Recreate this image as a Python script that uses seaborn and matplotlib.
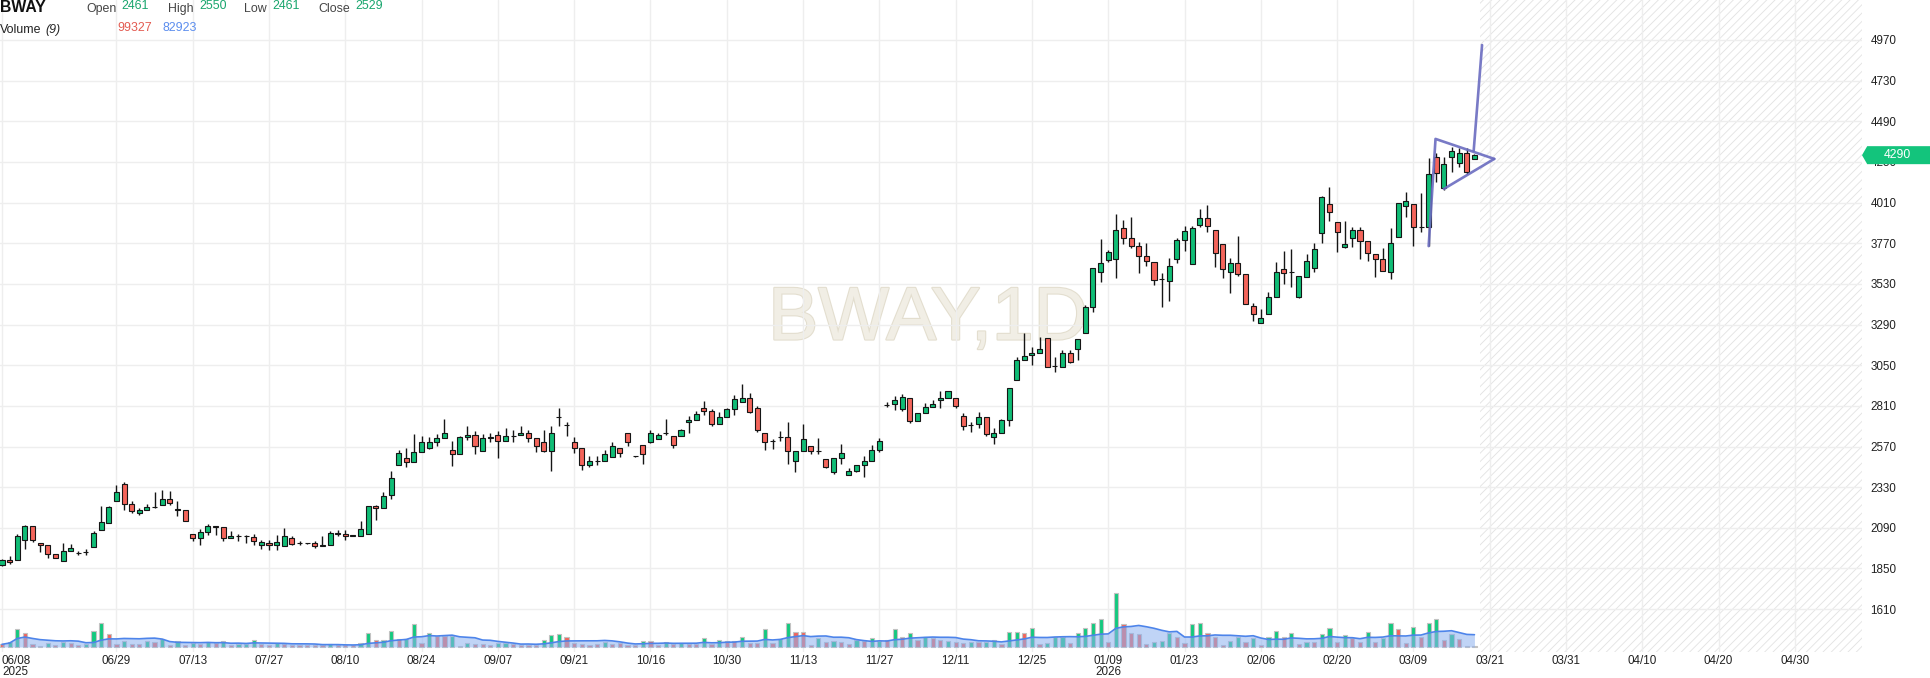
import numpy as np
import pandas as pd
import matplotlib
matplotlib.use("Agg")
import matplotlib.pyplot as plt
import matplotlib.patheffects as pe
from matplotlib.patches import Polygon
import seaborn as sns

# ---------------- data ----------------
open_ = [1868, 1902, 1902, 2020, 2099, 1998, 1986, 1935, 1892, 1953,
         1941, 1948, 1975, 2077, 2118, 2248, 2348, 2230, 2177, 2195,
         2213, 2224, 2260, 2199, 2195, 2055, 2030, 2065, 2100, 2095,
         2030, 2041, 2042, 2038, 1986, 2000, 1986, 1981, 2030, 1998,
         1998, 1998, 1985, 1986, 2055, 2053, 2043, 2042, 2053, 2221,
         2207, 2281, 2461, 2502, 2478, 2537, 2561, 2596, 2620, 2549,
         2525, 2626, 2637, 2541, 2622, 2637, 2602, 2632, 2637, 2649,
         2620, 2596, 2541, 2744, 2697, 2596, 2561, 2458, 2484, 2484,
         2508, 2561, 2649, 2512, 2580, 2596, 2614, 2647, 2632, 2632,
         2714, 2728, 2797, 2779, 2702, 2744, 2791, 2832, 2856, 2797,
         2649, 2600, 2625, 2626, 2482, 2541, 2572, 2543, 2496, 2419,
         2502, 2403, 2427, 2462, 2486, 2549, 2816, 2820, 2791, 2856,
         2718, 2767, 2802, 2842, 2856, 2856, 2753, 2698, 2702, 2743,
         2626, 2649, 2728, 2964, 3082, 3109, 3121, 3210, 3046, 3042,
         3121, 3145, 3239, 3393, 3599, 3672, 3676, 3859, 3800, 3756,
         3695, 3662, 3558, 3550, 3676, 3790, 3646, 3878, 3918, 3849,
         3764, 3599, 3652, 3587, 3400, 3298, 3351, 3452, 3617, 3599,
         3450, 3570, 3623, 3829, 4000, 3898, 3750, 3800, 3849, 3784,
         3705, 3676, 3599, 3806, 3992, 4000, 3865, 3865, 4282, 4099,
         4282, 4246, 4301, 4266]
high = [1908, 1925, 2053, 2108, 2099, 1998, 1990, 1935, 2000, 1994,
        1951, 1967, 2069, 2217, 2218, 2344, 2360, 2246, 2207, 2230,
        2301, 2315, 2309, 2246, 2195, 2055, 2083, 2114, 2103, 2095,
        2073, 2053, 2046, 2053, 2018, 2020, 2049, 2089, 2044, 2010,
        1999, 2010, 2043, 2073, 2079, 2079, 2047, 2128, 2221, 2226,
        2301, 2427, 2550, 2561, 2643, 2630, 2624, 2643, 2732, 2600,
        2630, 2689, 2659, 2643, 2649, 2659, 2679, 2669, 2689, 2669,
        2620, 2669, 2689, 2797, 2712, 2626, 2561, 2512, 2512, 2547,
        2596, 2561, 2649, 2516, 2580, 2669, 2649, 2732, 2632, 2675,
        2752, 2781, 2840, 2793, 2771, 2797, 2874, 2938, 2885, 2807,
        2649, 2614, 2663, 2712, 2541, 2702, 2572, 2620, 2496, 2502,
        2584, 2446, 2462, 2515, 2580, 2620, 2830, 2866, 2879, 2856,
        2767, 2826, 2846, 2895, 2899, 2856, 2767, 2712, 2771, 2743,
        2679, 2732, 2915, 3098, 3239, 3160, 3219, 3210, 3098, 3137,
        3141, 3204, 3406, 3623, 3794, 3731, 3941, 3908, 3924, 3776,
        3774, 3662, 3597, 3682, 3800, 3872, 3869, 3973, 3993, 3849,
        3764, 3682, 3810, 3587, 3420, 3381, 3485, 3662, 3727, 3735,
        3577, 3705, 3770, 4050, 4105, 3898, 3902, 3865, 3865, 3784,
        3705, 3741, 3859, 4006, 4071, 4000, 4065, 4272, 4300, 4282,
        4341, 4331, 4331, 4296]
low = [1862, 1876, 1900, 1967, 2006, 1947, 1912, 1912, 1892, 1953,
       1931, 1928, 1975, 2077, 2118, 2248, 2197, 2177, 2167, 2195,
       2210, 2224, 2226, 2158, 2128, 2010, 1986, 2045, 2049, 2010,
       2030, 2010, 2000, 1986, 1967, 1957, 1961, 1981, 1986, 1986,
       1997, 1971, 1981, 1986, 2040, 2020, 2040, 2042, 2053, 2138,
       2207, 2260, 2461, 2452, 2478, 2537, 2555, 2571, 2620, 2453,
       2525, 2610, 2525, 2541, 2594, 2502, 2602, 2596, 2637, 2596,
       2537, 2537, 2423, 2694, 2630, 2531, 2433, 2452, 2462, 2484,
       2508, 2506, 2571, 2506, 2466, 2590, 2614, 2637, 2559, 2632,
       2649, 2728, 2759, 2689, 2702, 2744, 2759, 2832, 2767, 2655,
       2547, 2555, 2600, 2466, 2419, 2541, 2525, 2527, 2443, 2409,
       2466, 2403, 2417, 2389, 2486, 2537, 2802, 2783, 2777, 2708,
       2718, 2767, 2802, 2797, 2856, 2797, 2669, 2653, 2679, 2633,
       2584, 2649, 2692, 2964, 3082, 3052, 3121, 3042, 3007, 3042,
       3062, 3078, 3239, 3367, 3544, 3658, 3564, 3766, 3741, 3593,
       3633, 3524, 3393, 3432, 3656, 3725, 3646, 3865, 3835, 3632,
       3564, 3479, 3579, 3412, 3312, 3298, 3351, 3452, 3528, 3511,
       3446, 3570, 3603, 3770, 3902, 3717, 3741, 3747, 3676, 3668,
       3570, 3609, 3558, 3806, 3924, 3756, 3835, 3755, 4134, 4085,
       4193, 4219, 4179, 4266]
close = [1902, 1888, 2040, 2099, 2018, 1986, 1935, 1912, 1953, 1971,
         1944, 1950, 2059, 2124, 2213, 2301, 2230, 2187, 2195, 2213,
         2215, 2260, 2236, 2196, 2128, 2030, 2067, 2101, 2095, 2030,
         2042, 2042, 2040, 2010, 2004, 1986, 2006, 2043, 1996, 1999,
         1998, 1981, 1984, 2059, 2057, 2042, 2044, 2085, 2221, 2207,
         2278, 2384, 2529, 2478, 2537, 2596, 2596, 2620, 2649, 2525,
         2626, 2637, 2573, 2620, 2624, 2600, 2632, 2634, 2649, 2620,
         2571, 2541, 2649, 2746, 2699, 2561, 2458, 2482, 2486, 2525,
         2573, 2531, 2596, 2513, 2525, 2649, 2637, 2649, 2580, 2669,
         2728, 2761, 2779, 2702, 2744, 2791, 2850, 2856, 2773, 2669,
         2596, 2601, 2626, 2541, 2541, 2614, 2541, 2541, 2448, 2502,
         2531, 2427, 2462, 2486, 2549, 2604, 2818, 2846, 2865, 2718,
         2767, 2802, 2822, 2856, 2899, 2807, 2694, 2699, 2743, 2643,
         2649, 2728, 2915, 3078, 3107, 3121, 3145, 3042, 3047, 3121,
         3068, 3204, 3393, 3623, 3652, 3717, 3849, 3800, 3756, 3692,
         3666, 3554, 3557, 3636, 3790, 3843, 3859, 3918, 3869, 3711,
         3617, 3652, 3589, 3412, 3353, 3328, 3452, 3603, 3597, 3600,
         3577, 3668, 3735, 4042, 3953, 3839, 3766, 3849, 3784, 3711,
         3676, 3609, 3774, 4006, 4020, 3865, 3866, 4177, 4183, 4236,
         4317, 4301, 4193, 4290]
volume = [31800, 63600, 210600, 170800, 35800, 15900, 43700, 23800, 55600, 51600,
          23800, 39700, 194700, 290000, 154900, 35800, 75500, 35800, 35800, 71500,
          63600, 91400, 19900, 75500, 23800, 51600, 35800, 59600, 43700, 71500,
          23800, 31800, 39700, 87400, 35800, 23800, 47700, 31800, 23800, 23800,
          23800, 23800, 23800, 35800, 23800, 19900, 19900, 47700, 170800, 87400,
          83400, 194080, 99327, 95400, 278100, 51600, 170800, 127100, 127100, 135100,
          15900, 51600, 35800, 35800, 23800, 51600, 43700, 31800, 23800, 23800,
          23800, 83400, 147000, 158900, 115200, 51600, 35800, 19900, 31800, 63600,
          35800, 43700, 23800, 23800, 75500, 75500, 23800, 63600, 31800, 43700,
          39700, 31800, 111200, 31800, 87400, 75500, 75500,
          123200, 51600, 51600, 210600, 51600, 91400, 282100, 182800, 182800,
          19900, 103300, 63600, 75500, 55600, 31800, 83400, 71500, 103300, 75500,
          83400, 210600, 123200, 170800, 79500, 123200, 103300, 79500, 75500, 55600,
          43700, 55600, 55600, 63600, 87400, 31800, 182800, 182800, 170800, 222500,
          31800, 51600, 115200, 115200, 43700, 170800, 222500, 290000, 341700, 63600,
          651600, 270200, 162900, 151000, 31800, 55600, 75500, 170800, 115200, 43700,
          270200, 282100, 162900, 123200, 19900, 75500, 123200, 55600, 103300, 23800,
          123200, 194700, 115200, 162900, 35800, 63600, 63600, 151000, 222500, 55600,
          143000, 103300, 55600, 182800, 55600, 103300, 290000, 210600, 43700, 234400,
          115200, 290000, 329800, 83400, 158900, 91400, 11900, 11900]
# volume bar colour per bar (u = up colour, d = down colour), read bar by bar
vol_dir = ("d u u d d d u d u d "
           "d u u u d d u d d u "
           "d u d u d u d u d u "
           "d u u u d d u d d d "
           "d d d u d d d u u d "
           "u u d u u d u d d u "
           "d u d d d u u d d d "
           "d u u u d d d d d u "
           "d d d d u d d u d u "
           "d d u d u d d "
           "u d d u d u u d d "
           "d u d u d d u d u u "
           "d u d u d u d d u d "
           "d u d u u d u u d u "
           "d u u u d u u u u d "
           "u d d d d u u u d d "
           "u u d d d u u d u d "
           "u u d u d u d u u d "
           "u d d u d u u d d u "
           "d u u d u d d d").split()

tick_pos = [0, 15, 25, 35, 45, 55, 65, 75, 85, 95, 105, 115, 125, 135, 145,
            155, 165, 175, 185, 195, 205, 215, 225, 235]
tick_labels = ["06/08\n2025", "06/29", "07/13", "07/27", "08/10", "08/24", "09/07",
               "09/21", "10/16", "10/30", "11/13", "11/27", "12/11", "12/25",
               "01/09\n2026", "01/23", "02/06", "02/20", "03/09", "03/21", "03/31",
               "04/10", "04/20", "04/30"]
y_ticks = [1610, 1850, 2090, 2330, 2570, 2810, 3050, 3290, 3530, 3770, 4010,
           4250, 4490, 4730, 4970]

# drawn pennant pattern (bar index, price)
pole_x = [187.0, 187.9, 195.6]
pole_y = [3753, 4386, 4268]
lower_x = [189.0, 195.6]
lower_y = [4091, 4268]
break_x = [192.9, 194.0]
break_y = [4315, 4940]

hover_bar = 52

# ---------------- style ----------------
sns.set_theme(style="white")
plt.rcParams['font.family'] = ['Liberation Sans', 'DejaVu Sans']
plt.rcParams['hatch.linewidth'] = 0.6
plt.rcParams['hatch.color'] = '#e2e2e2'

GREEN = '#10bd76'
RED = '#f4655b'
VGREEN = '#14c97f'
VRED = '#f2645c'
BLUE = '#4d84ea'
TXT = '#222222'

W, H = 1931, 678
PR, PB = 1862, 652
fig = plt.figure(figsize=(W / 100, H / 100), dpi=100)
fig.patch.set_facecolor('white')
ax = fig.add_axes([0, 1 - PB / H, PR / W, PB / H])
ax.set_facecolor('white')
ax2 = ax.twinx()

n = len(close)
idx = np.arange(n)
o = np.array(open_, float)
c = np.array(close, float)
hi = np.array(high, float)
lo = np.array(low, float)
up = c >= o

XL = (-0.26, 243.8)
YL = (1357, 5206)

# future hatched zone
ax.axvspan(n - 0.3, XL[1], facecolor='none', edgecolor='#e2e2e2', hatch='////',
           linewidth=0, zorder=0.3)

# watermark
ax.text(928 / PR, 1 - 320 / PB, "BWAY,1D", transform=ax.transAxes, fontsize=54,
        color='#f1eee5', ha='center', va='center', zorder=0.2,
        path_effects=[pe.withStroke(linewidth=1.6, foreground='#e3decf')])

# candles
ax.vlines(idx, lo, hi, color='#151515', lw=1.0, zorder=3)
body_bottom = np.minimum(o, c)
body_h = np.maximum(np.abs(c - o), 2.0)
ax.bar(idx, body_h, bottom=body_bottom, width=0.66,
       color=np.where(up, GREEN, RED), edgecolor='#151515', linewidth=0.8, zorder=4)

# pattern drawing
for xs, ys in [(pole_x, pole_y), (lower_x, lower_y), (break_x, break_y)]:
    ax.plot(xs, ys, color='#6a6cc0', lw=1.9, alpha=0.9, zorder=6,
            solid_capstyle='round')

# volume pane
vdf = pd.DataFrame({'bar': idx, 'volume': volume, 'dir': vol_dir})
sns.barplot(data=vdf, x='bar', y='volume', hue='dir',
            palette={'u': VGREEN, 'd': VRED}, native_scale=True, dodge=False,
            width=0.55, saturation=1, edgecolor='#c2c2c2', linewidth=0.8,
            errorbar=None, legend=False, ax=ax2, zorder=1)
ma = vdf['volume'].rolling(9, min_periods=1).mean()
ax2.fill_between(idx, 0, ma.values, color='#8db1f0', alpha=0.55, lw=0, zorder=2)
sns.lineplot(x=idx, y=ma.values, ax=ax2, color=BLUE, lw=1.2, zorder=3)
ax2.set_ylim(-59950, 7.758e6)
ax2.set_yticks([])
ax2.set_ylabel('')
ax2.set_xlabel('')
for sp in ax2.spines.values():
    sp.set_visible(False)

# axes formatting
ax.set_xlim(*XL)
ax.set_ylim(*YL)
ax.set_xticks(tick_pos)
ax.set_xticklabels(tick_labels)
ax.tick_params(axis='x', length=0, pad=2, labelsize=8.4, labelcolor=TXT)
for lbl in ax.get_xticklabels():
    lbl.set_linespacing(0.92)
ax.get_xticklabels()[0].set_horizontalalignment('left')
ax.yaxis.tick_right()
ax.set_yticks(y_ticks)
ax.set_yticklabels([str(v) for v in y_ticks])
ax.tick_params(axis='y', length=0, pad=6, labelsize=8.4, labelcolor=TXT)
ax.grid(True, color='#eeeeee', lw=1.0)
ax.set_axisbelow(True)
for sp in ax.spines.values():
    sp.set_visible(False)

# last price box
ytr = ax.get_yaxis_transform()
pl = close[-1]
half = (YL[1] - YL[0]) / PB * 9
poly = Polygon([(1.0, pl), (1.0028, pl + half), (1.05, pl + half),
                (1.05, pl - half), (1.0028, pl - half)], closed=True,
               transform=ytr, facecolor='#13c47c', edgecolor='none',
               clip_on=False, zorder=10)
ax.add_artist(poly)
ax.text(1.0188, pl, f"{pl}", transform=ytr, ha='center', va='center',
        color='white', fontsize=8.8, zorder=11, clip_on=False)

# header
def ftext(xpx, ypx, s, **kw):
    fig.text(xpx / W, 1 - ypx / H, s, va='center', ha='left', **kw)

VAL = '#18a56d'
HS = 8.9
ftext(0, 8, "BWAY", fontsize=11.3, fontweight='bold', color='#111111')
ftext(86, 9, "Open", fontsize=HS, color='#444444')
ftext(121.7, 5.7, f"{open_[hover_bar]}", fontsize=HS, color=VAL)
ftext(167.7, 9, "High", fontsize=HS, color='#444444')
ftext(199, 5.7, f"{high[hover_bar]}", fontsize=HS, color=VAL)
ftext(244, 9, "Low", fontsize=HS, color='#444444')
ftext(272.7, 5.7, f"{low[hover_bar]}", fontsize=HS, color=VAL)
ftext(318.3, 9, "Close", fontsize=HS, color='#444444')
ftext(355, 5.7, f"{close[hover_bar]}", fontsize=HS, color=VAL)
ftext(0, 30, "Volume", fontsize=HS, color='#222222')
ftext(45, 30, "(9)", fontsize=HS, color='#222222', fontstyle='italic')
ftext(117.3, 28, f"{volume[hover_bar]}", fontsize=HS, color='#e35b51')
ftext(162.7, 28, f"{ma.iloc[hover_bar]:.0f}", fontsize=HS, color='#5b8dee')

fig.savefig('out.png', dpi=100, facecolor='white')
